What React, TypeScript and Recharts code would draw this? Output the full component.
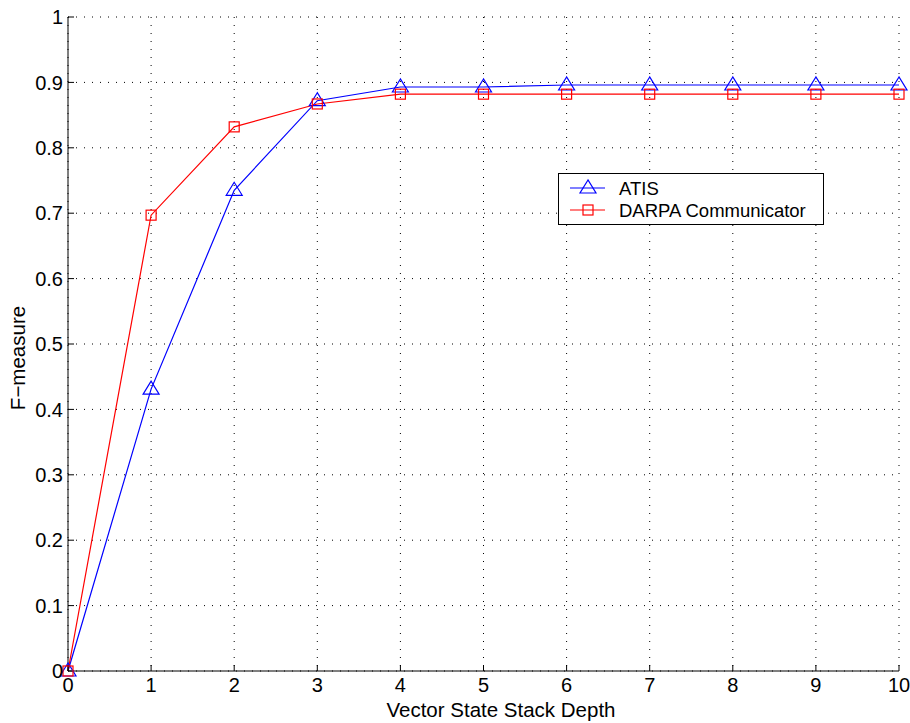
import { LineChart, Line, XAxis, YAxis, CartesianGrid } from 'recharts';

const depths = [0, 1, 2, 3, 4, 5, 6, 7, 8, 9, 10];
const atis = [0, 0.431, 0.735, 0.872, 0.893, 0.893, 0.896, 0.896, 0.896, 0.896, 0.896];
const darpa = [0, 0.697, 0.832, 0.867, 0.882, 0.882, 0.882, 0.882, 0.882, 0.882, 0.882];

const xTicks = [0, 1, 2, 3, 4, 5, 6, 7, 8, 9, 10];
const yTicks = [0, 0.1, 0.2, 0.3, 0.4, 0.5, 0.6, 0.7, 0.8, 0.9, 1];
const xMinor = Array.from({ length: 101 }, (_, i) => i / 10);
const yMinor = Array.from({ length: 51 }, (_, i) => i / 50);

const data = depths.map((d, i) => ({ depth: d, atis: atis[i], darpa: darpa[i] }));

const FONT = 'Liberation Sans, Arial, Helvetica, sans-serif';

function Triangle(props: any) {
  const { cx, cy } = props;
  if (cx == null || cy == null) return null;
  return (
    <polygon
      points={`${cx},${cy - 8} ${cx - 8},${cy + 5} ${cx + 8},${cy + 5}`}
      fill="none"
      stroke="#0000ff"
      strokeWidth={1.2}
    />
  );
}

function Square(props: any) {
  const { cx, cy } = props;
  if (cx == null || cy == null) return null;
  return <rect x={cx - 5} y={cy - 5} width={10} height={10} fill="none" stroke="#ff0000" strokeWidth={1.2} />;
}

function LegendBox() {
  return (
    <svg width={266} height={52} style={{ display: 'block' }}>
      <rect x={0.5} y={0.5} width={265} height={51} fill="#fff" stroke="#000" strokeWidth={1} />
      <line x1={12} y1={15} x2={47} y2={15} stroke="#0000ff" strokeWidth={1.2} />
      <Triangle cx={30} cy={15} />
      <text x={61} y={21.5} fontFamily={FONT} fontSize={18.5} fill="#000">ATIS</text>
      <line x1={12} y1={37} x2={47} y2={37} stroke="#ff0000" strokeWidth={1.2} />
      <Square cx={30} cy={37} />
      <text x={61} y={43.5} fontFamily={FONT} fontSize={18.5} fill="#000">DARPA Communicator</text>
    </svg>
  );
}

export default function App() {
  return (
    <div style={{ position: 'absolute', left: 0, top: 0, width: 910, height: 723, background: '#fff' }}>
      <LineChart width={910} height={723} data={data} margin={{ top: 17, right: 11, left: 0, bottom: 0 }}>
        <CartesianGrid
          stroke="#000"
          strokeDasharray="1 7"
          strokeWidth={1}
          horizontalValues={yTicks}
          verticalValues={xTicks}
        />
        <XAxis
          xAxisId="minor"
          dataKey="depth"
          type="number"
          domain={[0, 10]}
          ticks={xMinor}
          tick={false}
          tickSize={-3}
          axisLine={false}
          height={0}
          stroke="#000"
        />
        <YAxis
          yAxisId="minor"
          type="number"
          domain={[0, 1]}
          ticks={yMinor}
          tick={false}
          tickSize={-3}
          axisLine={false}
          width={0}
          stroke="#000"
        />
        <XAxis
          dataKey="depth"
          type="number"
          domain={[0, 10]}
          ticks={xTicks}
          tickSize={-6}
          tickMargin={13}
          height={52}
          stroke="#000"
          tick={{ fill: '#000', fontSize: 20, fontFamily: FONT }}
          label={(p: any) => (
            <text x={501} y={717} textAnchor="middle" fontFamily={FONT} fontSize={20.5} fill="#000">
              Vector State Stack Depth
            </text>
          )}
        />
        <YAxis
          type="number"
          domain={[0, 1]}
          ticks={yTicks}
          tickSize={-6}
          tickMargin={11}
          width={68}
          stroke="#000"
          tick={{ fill: '#000', fontSize: 20, fontFamily: FONT }}
          label={(p: any) => (
            <text
              x={25}
              y={358}
              transform="rotate(-90 25 358)"
              textAnchor="middle"
              fontFamily={FONT}
              fontSize={20.5}
              fill="#000"
            >
              F−measure
            </text>
          )}
        />
        <Line
          dataKey="atis"
          name="ATIS"
          stroke="#0000ff"
          strokeWidth={1.2}
          dot={<Triangle />}
          activeDot={false}
          isAnimationActive={false}
        />
        <Line
          dataKey="darpa"
          name="DARPA Communicator"
          stroke="#ff0000"
          strokeWidth={1.2}
          dot={<Square />}
          activeDot={false}
          isAnimationActive={false}
        />
      </LineChart>
      <div style={{ position: 'absolute', left: 558, top: 173 }}>
        <LegendBox />
      </div>
    </div>
  );
}
